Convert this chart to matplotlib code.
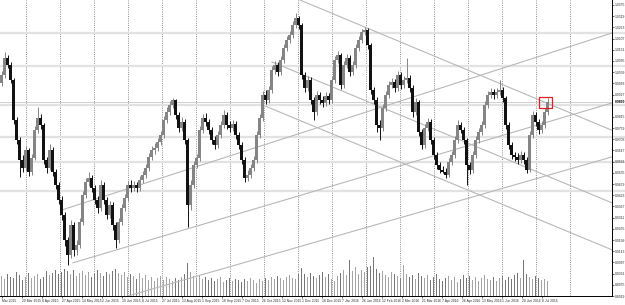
import numpy as np
import matplotlib
matplotlib.use("Agg")
import matplotlib.pyplot as plt
from matplotlib.patches import Rectangle

# daily-ish OHLC (one bar ~ 2 sessions)
opens = [0.9985, 1.0025, 1.0110, 1.0075, 1.0000, 0.9800, 0.9700, 0.9600, 0.9560, 0.9650,
         0.9540, 0.9610, 0.9750, 0.9810, 0.9775, 0.9600, 0.9560, 0.9650, 0.9540, 0.9475,
         0.9400, 0.9325, 0.9200, 0.9125, 0.9275, 0.9150, 0.9175, 0.9290, 0.9425, 0.9490,
         0.9510, 0.9460, 0.9400, 0.9360, 0.9475, 0.9400, 0.9325, 0.9375, 0.9275, 0.9200,
         0.9290, 0.9360, 0.9410, 0.9475, 0.9460, 0.9475, 0.9460, 0.9500, 0.9525, 0.9560,
         0.9615, 0.9650, 0.9660, 0.9690, 0.9725, 0.9800, 0.9840, 0.9875, 0.9900, 0.9825,
         0.9760, 0.9790, 0.9700, 0.9375, 0.9475, 0.9575, 0.9610, 0.9750, 0.9810, 0.9790,
         0.9750, 0.9700, 0.9675, 0.9725, 0.9775, 0.9825, 0.9775, 0.9760, 0.9780, 0.9725,
         0.9675, 0.9600, 0.9510, 0.9525, 0.9560, 0.9600, 0.9725, 0.9810, 0.9925, 0.9900,
         0.9950, 1.0050, 1.0075, 1.0040, 1.0100, 1.0160, 1.0200, 1.0225, 1.0275, 1.0310,
         1.0275, 1.0025, 0.9960, 1.0000, 0.9900, 0.9840, 0.9925, 0.9900, 0.9885, 0.9920,
         0.9900, 1.0000, 1.0100, 1.0125, 0.9975, 1.0075, 1.0110, 1.0040, 1.0075, 1.0160,
         1.0200, 1.0240, 1.0250, 1.0175, 0.9950, 0.9900, 0.9775, 0.9760, 0.9860, 0.9925,
         0.9975, 0.9990, 0.9960, 1.0025, 0.9975, 1.0000, 1.0010, 0.9960, 0.9840, 0.9890,
         0.9740, 0.9675, 0.9760, 0.9790, 0.9700, 0.9625, 0.9575, 0.9550, 0.9540, 0.9525,
         0.9590, 0.9625, 0.9700, 0.9775, 0.9750, 0.9700, 0.9575, 0.9550, 0.9625, 0.9700,
         0.9740, 0.9775, 0.9875, 0.9925, 0.9940, 0.9925, 0.9940, 0.9950, 0.9910, 0.9775,
         0.9675, 0.9625, 0.9615, 0.9600, 0.9625, 0.9600, 0.9550, 0.9725, 0.9825, 0.9790,
         0.9750, 0.9775, 0.9840]
closes = [1.0025, 1.0110, 1.0075, 1.0000, 0.9800, 0.9700, 0.9600, 0.9560, 0.9650, 0.9540,
          0.9610, 0.9750, 0.9810, 0.9775, 0.9600, 0.9560, 0.9650, 0.9540, 0.9475, 0.9400,
          0.9325, 0.9200, 0.9125, 0.9275, 0.9150, 0.9175, 0.9290, 0.9425, 0.9490, 0.9510,
          0.9460, 0.9400, 0.9360, 0.9475, 0.9400, 0.9325, 0.9375, 0.9275, 0.9200, 0.9290,
          0.9360, 0.9410, 0.9475, 0.9460, 0.9475, 0.9460, 0.9500, 0.9525, 0.9560, 0.9615,
          0.9650, 0.9660, 0.9690, 0.9725, 0.9800, 0.9840, 0.9875, 0.9900, 0.9825, 0.9760,
          0.9790, 0.9700, 0.9375, 0.9475, 0.9575, 0.9610, 0.9750, 0.9810, 0.9790, 0.9750,
          0.9700, 0.9675, 0.9725, 0.9775, 0.9825, 0.9775, 0.9760, 0.9780, 0.9725, 0.9675,
          0.9600, 0.9510, 0.9525, 0.9560, 0.9600, 0.9725, 0.9810, 0.9925, 0.9900, 0.9950,
          1.0050, 1.0075, 1.0040, 1.0100, 1.0160, 1.0200, 1.0225, 1.0275, 1.0310, 1.0275,
          1.0025, 0.9960, 1.0000, 0.9900, 0.9840, 0.9925, 0.9900, 0.9885, 0.9920, 0.9900,
          1.0000, 1.0100, 1.0125, 0.9975, 1.0075, 1.0110, 1.0040, 1.0075, 1.0160, 1.0200,
          1.0240, 1.0250, 1.0175, 0.9950, 0.9900, 0.9775, 0.9760, 0.9860, 0.9925, 0.9975,
          0.9990, 0.9960, 1.0025, 0.9975, 1.0000, 1.0010, 0.9960, 0.9840, 0.9890, 0.9740,
          0.9675, 0.9760, 0.9790, 0.9700, 0.9625, 0.9575, 0.9550, 0.9540, 0.9525, 0.9590,
          0.9625, 0.9700, 0.9775, 0.9750, 0.9700, 0.9575, 0.9550, 0.9625, 0.9700, 0.9740,
          0.9775, 0.9875, 0.9925, 0.9940, 0.9925, 0.9940, 0.9950, 0.9910, 0.9775, 0.9675,
          0.9625, 0.9615, 0.9600, 0.9625, 0.9600, 0.9550, 0.9725, 0.9825, 0.9790, 0.9750,
          0.9775, 0.9840, 0.9890]
highs = [1.0045, 1.0140, 1.0125, 1.0090, 1.0010, 0.9815, 0.9715, 0.9625, 0.9670, 0.9660,
         0.9630, 0.9770, 0.9865, 0.9830, 0.9785, 0.9615, 0.9680, 0.9665, 0.9555, 0.9490,
         0.9420, 0.9340, 0.9215, 0.9300, 0.9290, 0.9200, 0.9310, 0.9445, 0.9510, 0.9540,
         0.9525, 0.9475, 0.9420, 0.9500, 0.9490, 0.9415, 0.9395, 0.9390, 0.9290, 0.9310,
         0.9380, 0.9430, 0.9495, 0.9500, 0.9495, 0.9490, 0.9520, 0.9545, 0.9580, 0.9635,
         0.9670, 0.9685, 0.9710, 0.9745, 0.9820, 0.9865, 0.9895, 0.9910, 0.9905, 0.9840,
         0.9815, 0.9805, 0.9710, 0.9500, 0.9595, 0.9630, 0.9770, 0.9830, 0.9835, 0.9805,
         0.9765, 0.9720, 0.9745, 0.9795, 0.9850, 0.9840, 0.9795, 0.9800, 0.9795, 0.9740,
         0.9690, 0.9615, 0.9550, 0.9580, 0.9620, 0.9745, 0.9830, 0.9945, 0.9950, 0.9970,
         1.0070, 1.0095, 1.0090, 1.0120, 1.0180, 1.0220, 1.0245, 1.0295, 1.0335, 1.0320,
         1.0285, 1.0040, 1.0020, 1.0015, 0.9915, 0.9945, 0.9940, 0.9920, 0.9940, 0.9935,
         1.0020, 1.0120, 1.0145, 1.0135, 1.0095, 1.0130, 1.0125, 1.0095, 1.0180, 1.0220,
         1.0255, 1.0265, 1.0260, 1.0185, 0.9965, 0.9915, 0.9800, 0.9880, 0.9945, 0.9995,
         1.0010, 1.0005, 1.0045, 1.0040, 1.0020, 1.0110, 1.0025, 0.9975, 0.9910, 0.9900,
         0.9755, 0.9780, 0.9810, 0.9805, 0.9715, 0.9640, 0.9590, 0.9570, 0.9560, 0.9610,
         0.9645, 0.9720, 0.9800, 0.9790, 0.9765, 0.9710, 0.9590, 0.9645, 0.9720, 0.9760,
         0.9795, 0.9895, 0.9945, 0.9960, 0.9955, 0.9960, 1.0000, 0.9965, 0.9920, 0.9790,
         0.9690, 0.9640, 0.9635, 0.9645, 0.9640, 0.9615, 0.9745, 0.9845, 0.9840, 0.9805,
         0.9795, 0.9860, 0.9910]
lows = [0.9970, 1.0010, 1.0060, 0.9985, 0.9780, 0.9680, 0.9515, 0.9540, 0.9545, 0.9520,
        0.9525, 0.9600, 0.9735, 0.9755, 0.9580, 0.9535, 0.9550, 0.9520, 0.9455, 0.9380,
        0.9300, 0.9170, 0.9075, 0.9110, 0.9120, 0.9125, 0.9160, 0.9275, 0.9410, 0.9470,
        0.9440, 0.9380, 0.9335, 0.9345, 0.9380, 0.9305, 0.9310, 0.9250, 0.9160, 0.9185,
        0.9275, 0.9345, 0.9395, 0.9440, 0.9445, 0.9440, 0.9445, 0.9485, 0.9510, 0.9545,
        0.9600, 0.9630, 0.9645, 0.9675, 0.9710, 0.9785, 0.9825, 0.9860, 0.9805, 0.9740,
        0.9745, 0.9680, 0.9265, 0.9350, 0.9460, 0.9560, 0.9595, 0.9735, 0.9770, 0.9730,
        0.9680, 0.9655, 0.9660, 0.9710, 0.9760, 0.9755, 0.9740, 0.9745, 0.9705, 0.9655,
        0.9580, 0.9490, 0.9495, 0.9510, 0.9545, 0.9585, 0.9710, 0.9795, 0.9880, 0.9885,
        0.9935, 1.0030, 1.0020, 1.0025, 1.0085, 1.0145, 1.0185, 1.0210, 1.0260, 1.0255,
        1.0005, 0.9940, 0.9945, 0.9880, 0.9800, 0.9825, 0.9880, 0.9865, 0.9870, 0.9880,
        0.9885, 0.9985, 1.0085, 0.9955, 0.9960, 1.0060, 1.0020, 1.0025, 1.0060, 1.0145,
        1.0185, 1.0225, 1.0155, 0.9930, 0.9880, 0.9740, 0.9700, 0.9745, 0.9845, 0.9910,
        0.9960, 0.9940, 0.9945, 0.9955, 0.9960, 0.9985, 0.9940, 0.9815, 0.9825, 0.9720,
        0.9655, 0.9660, 0.9745, 0.9680, 0.9605, 0.9555, 0.9535, 0.9535, 0.9510, 0.9515,
        0.9575, 0.9610, 0.9685, 0.9735, 0.9680, 0.9475, 0.9530, 0.9535, 0.9610, 0.9685,
        0.9725, 0.9760, 0.9860, 0.9910, 0.9905, 0.9910, 0.9925, 0.9890, 0.9755, 0.9655,
        0.9605, 0.9595, 0.9580, 0.9585, 0.9580, 0.9535, 0.9540, 0.9710, 0.9770, 0.9730,
        0.9735, 0.9760, 0.9825]
volumes = [20, 17, 22, 19, 18, 24, 21, 16, 19, 23, 18, 20, 22, 17, 19, 25, 21, 23, 26, 22,
           24, 27, 25, 22, 26, 20, 23, 25, 21, 24, 19, 22, 26, 23, 20, 24, 22, 25, 27, 23,
           21, 24, 19, 22, 20, 17, 23, 18, 21, 16, 19, 15, 18, 20, 16, 19, 17, 15, 18, 16,
           19, 22, 33, 24, 20, 18, 21, 17, 19, 16, 18, 15, 17, 19, 14, 16, 18, 15, 17, 16,
           14, 17, 15, 18, 16, 13, 17, 15, 18, 16, 19, 17, 20, 18, 16, 19, 21, 18, 17, 22,
           28, 22, 19, 23, 20, 18, 21, 24, 19, 22, 17, 15, 20, 23, 26, 21, 36, 25, 29, 22,
           26, 24, 29, 30, 39, 27, 23, 25, 21, 19, 24, 22, 20, 18, 31, 22, 19, 21, 17, 23,
           20, 18, 21, 16, 19, 22, 17, 15, 18, 20, 16, 19, 14, 17, 21, 18, 20, 16, 19, 15,
           18, 21, 17, 16, 19, 15, 18, 20, 16, 19, 17, 21, 23, 18, 36, 22, 19, 17, 20, 18,
           16, 17, 15]

date_labels = ["Mar 2015", "20 Mar 2015", "8 Apr 2015", "27 Apr 2015", "14 May 2015",
               "2 Jun 2015", "19 Jun 2015", "8 Jul 2015", "27 Jul 2015", "13 Aug 2015",
               "1 Sep 2015", "18 Sep 2015", "7 Oct 2015", "26 Oct 2015", "12 Nov 2015",
               "1 Dec 2015", "18 Dec 2015", "7 Jan 2016", "26 Jan 2016", "12 Feb 2016",
               "2 Mar 2016", "21 Mar 2016", "7 Apr 2016", "26 Apr 2016", "13 May 2016",
               "1 Jun 2016", "20 Jun 2016", "8 Jul 2016"]

# horizontal levels and trend lines (bar index, price)
levels = [1.0235, 1.0070, 0.9875, 0.9715, 0.9590, 0.9445]
trend_lines = [((99.5, 1.0400), (203.5, 0.9748)),
               ((90.2, 1.0090), (203.5, 0.9385)),
               ((87.8, 0.9870), (203.5, 0.9150)),
               ((20.2, 0.9350), (203.5, 1.0235)),
               ((23.8, 0.9085), (203.5, 0.9885)),
               ((41.2, 0.8915), (203.5, 0.9615))]

FONT = "Liberation Sans"

n = len(closes)
x = np.arange(n)
up = np.array(closes) >= np.array(opens)

fig = plt.figure(figsize=(6.25, 3.05), dpi=100)
fig.patch.set_facecolor("white")
ax = fig.add_axes([0, 9 / 305, 612 / 625, 296 / 305])
vax = ax.twinx()
ax.set_zorder(2)
vax.set_zorder(1)
ax.patch.set_visible(False)

# volumes along the bottom
vcol = np.where(up, "#a4a4a4", "#767676")
vax.bar(x, volumes, width=0.55, color=vcol, linewidth=0)
vax.set_ylim(0, 296)
vax.set_yticks([])
for s in vax.spines.values():
    s.set_visible(False)

# grid
for gx in np.arange(8.17, 200, 11.33):
    ax.axvline(gx, color="#8c8c8c", lw=0.7, ls=(0, (1, 1.3)), zorder=0)
# level lines run on into the price scale
for lv in levels:
    ax.plot([-0.5, 208.5], [lv, lv], color="#e2e2e2", lw=1.6, zorder=0.5, clip_on=False)
ax.axhline(closes[-1], color="#d0d0d0", lw=0.7, zorder=0.5)

for (x0, y0), (x1, y1) in trend_lines:
    ax.plot([x0, x1], [y0, y1], color="#b8b8b8", lw=0.8, zorder=1)

# candles
ccol = np.where(up, "#858585", "#121212")
ax.vlines(x, lows, highs, colors=ccol, lw=0.7, zorder=3)
body_lo = np.minimum(opens, closes)
body_h = np.maximum(np.abs(np.array(closes) - np.array(opens)), 0.0002)
ax.bar(x, body_h, bottom=body_lo, width=0.7, color=ccol, linewidth=0, zorder=3)

ax.add_patch(Rectangle((179.3, 0.9862), 4.2, 0.0054, fill=False, edgecolor="#e02020", lw=0.9, zorder=4))

ax.set_xlim(-0.5, 203.5)
ax.set_ylim(0.8920, 1.0400)

# price scale on the right
ax.yaxis.tick_right()
yt = np.arange(1.0375, 0.8900, -0.0056)
yt = yt[np.abs(yt - closes[-1]) > 0.0035]
ax.set_yticks(yt)
ax.set_yticklabels(["%.4f" % v for v in yt], fontsize=2.4, color="#303030", family=FONT)
ax.tick_params(axis="y", length=1.5, width=0.5, pad=0.8, colors="#303030")
ax.text(1.0045, closes[-1], "%.4f" % closes[-1], transform=ax.get_yaxis_transform(),
        fontsize=2.4, va="center", ha="left", color="black", fontweight="bold", family=FONT)

# date scale
xt = 0.17 + np.arange(len(date_labels)) * 6.67
ax.set_xticks(xt)
ax.set_xticklabels(date_labels, fontsize=2.4, ha="left", color="#303030", family=FONT)
ax.tick_params(axis="x", length=1.5, width=0.5, pad=0.6, colors="#303030")

ax.spines["top"].set_visible(False)
ax.spines["left"].set_visible(False)
ax.spines["right"].set_linewidth(0.7)
ax.spines["bottom"].set_linewidth(0.7)

fig.savefig("out.png", dpi=100, facecolor="white")
